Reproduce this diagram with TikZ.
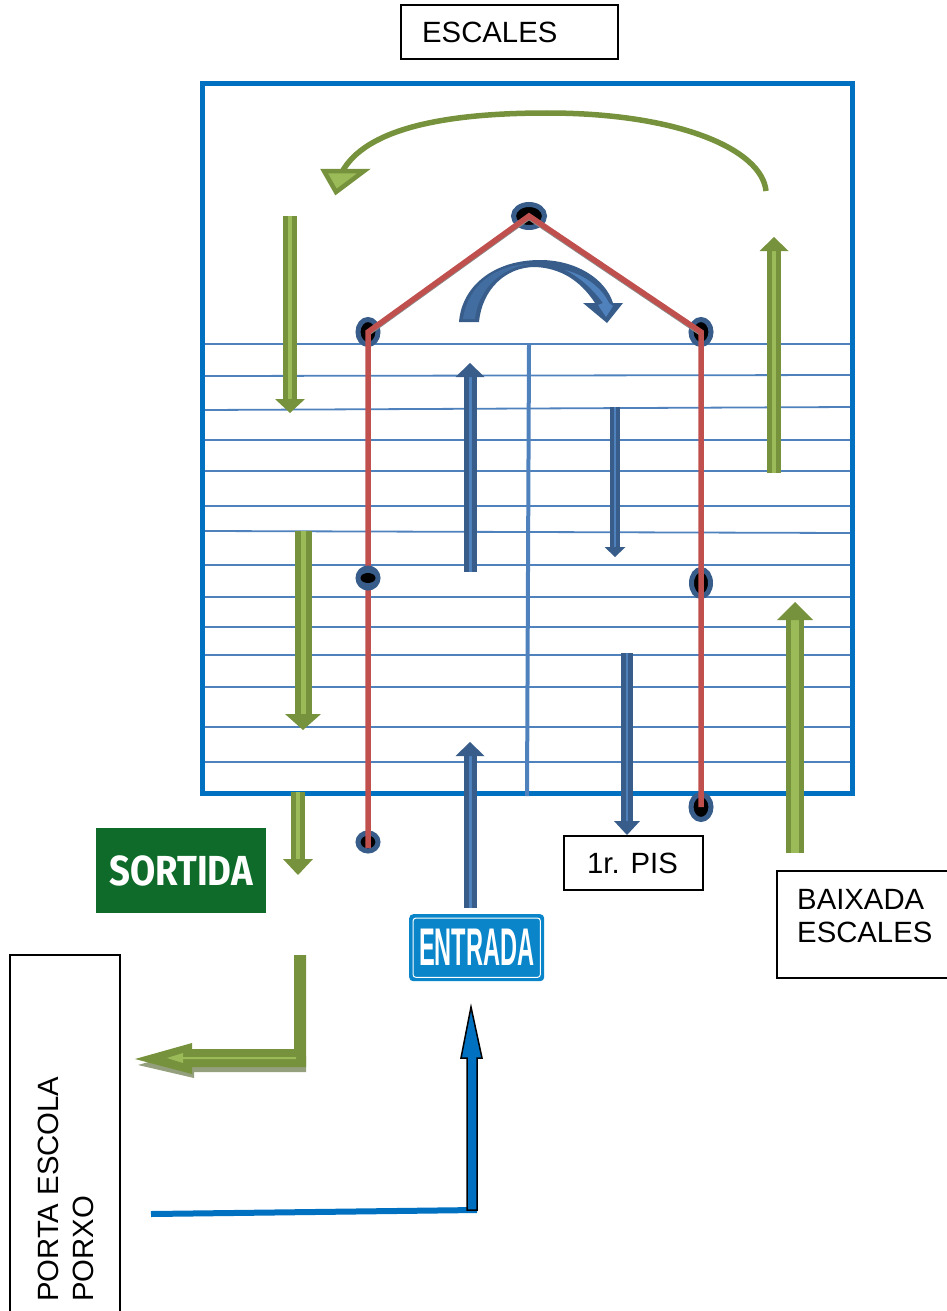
\documentclass[tikz,border=0pt]{standalone}
\usepackage{fontspec}
\setmainfont{Liberation Sans}
\newfontfamily\signfont{Fira Sans}
\usetikzlibrary{arrows.meta,shapes.geometric,positioning}
\definecolor{framblue}{HTML}{0070C0}
\definecolor{stepblue}{HTML}{4F81BD}
\definecolor{darkblue}{HTML}{385D8A}
\definecolor{darkgreen}{HTML}{76923C}
\definecolor{lightgreen}{HTML}{9BBB59}
\definecolor{redline}{HTML}{C0504D}
\definecolor{signgreen}{HTML}{0F6B2A}
\definecolor{signblue}{HTML}{0A85C9}
\tikzset{
label box/.style={draw=black,line width=1.7pt,minimum width=#1,anchor=north west,inner sep=0pt,outer sep=0pt},
label text/.style={inner sep=0pt,anchor=west,font=\fontsize{29.3}{29.3}\selectfont},
stair/.style={stepblue,line width=1.8pt},
green block/.style n args={4}{draw=darkgreen,double=lightgreen,double distance=#2,line width=#1,
  -{Triangle[length=#4,width=#3,line width=0pt,fill=darkgreen]}},
blue block/.style n args={4}{draw=darkblue,double=stepblue,double distance=#2,line width=#1,
  -{Triangle[length=#4,width=#3,line width=0pt,fill=darkblue]}},
hole/.style={ellipse,draw=darkblue,line width=5pt,fill=black,inner sep=0pt},
route/.style={redline,line width=5.5pt},
}
\begin{document}
\begin{tikzpicture}[x=1pt,y=-1pt]
\useasboundingbox (0,0) rectangle (947,1311);

% stairs
\foreach \ya/\yb in {344/344,376/375,410/407,440/440,471/471,506/506,531/533,565/565,597/597,627/627,655/655,687/687,727/727,762/762}
  \draw[stair] (205,\ya) -- (850,\yb);
\draw[framblue,line width=5pt] (202.5,84) rectangle (852.5,793.5);
\coordinate (midtop) at (529,345);
\coordinate (midbot) at (527,796);
\draw[stepblue,line width=4pt] (midtop) -- (midbot);

% holes
\node (htop) at (529,216) [hole,minimum width=31pt,minimum height=23pt] {};
\node (hleft) at (368,332) [hole,minimum width=20pt,minimum height=25pt] {};
\node (hright) at (701,332) [hole,minimum width=20pt,minimum height=25pt] {};
\node (hmidr) at (701,583) [hole,minimum width=19pt,minimum height=27pt] {};
\node (hbotr) at (701,807) [hole,minimum width=20pt,minimum height=25pt] {};
\node (hbotl) at (368,842) [hole,minimum width=20pt,minimum height=18pt] {};
\coordinate (rbotl) at (368,848);

% route
\draw[black!45,line width=1.5pt] ([yshift=-3.5pt]hleft.center) -- ([yshift=-3.5pt]htop.center) -- ([yshift=-3.5pt]hright.center);
\draw[route] (rbotl) -- (hleft.center) -- (htop.center) -- (hright.center) -- (hbotr.center);
\node (hmidl) at (368,578) [hole,fill=darkblue,minimum width=20pt,minimum height=20pt] {};
\node (hmidlin) at (hmidl) [ellipse,fill=black,minimum width=15pt,minimum height=10pt,inner sep=0pt] {};

% green arrows
\coordinate (ga) at (290,216);
\coordinate (gb) at (290,413);
\draw[green block={5pt}{4pt}{30pt}{14pt}] (ga) -- (gb);
\coordinate (gc) at (303,531);
\coordinate (gd) at (303,730);
\draw[green block={6pt}{5pt}{36pt}{16pt}] (gc) -- (gd);
\coordinate (ge) at (298,792);
\coordinate (gf) at (298,875);
\draw[green block={5pt}{4pt}{30pt}{16pt}] (ge) -- (gf);
\coordinate (gg) at (774,473);
\coordinate (gh) at (774,237);
\draw[green block={5pt}{4pt}{29pt}{14pt}] (gg) -- (gh);
\coordinate (gi) at (795,853);
\coordinate (gj) at (795,602);
\draw[green block={5pt}{8pt}{36pt}{18pt}] (gi) -- (gj);

% blue arrows
\coordinate (ba) at (470,572);
\coordinate (bb) at (470,363);
\draw[blue block={5pt}{3pt}{29pt}{14pt}] (ba) -- (bb);
\coordinate (bc) at (615,407);
\coordinate (bd) at (615,557);
\draw[blue block={4pt}{2pt}{21pt}{10pt}] (bc) -- (bd);
\coordinate (be) at (470,908);
\coordinate (bf) at (470,742);
\draw[blue block={5pt}{3pt}{29pt}{14pt}] (be) -- (bf);
\coordinate (bg) at (627,653);
\coordinate (bh) at (627,835);
\draw[blue block={5pt}{2pt}{26pt}{14pt}] (bg) -- (bh);

% curved arrows
\draw[darkgreen,line width=5.5pt] (766,191) .. controls (762,150) and (680,113) .. (547,113)
  .. controls (440,113) and (365,130) .. (342,172);
\draw[darkgreen,fill=lightgreen,line width=4.5pt,line join=miter] (324,171) -- (364,171) -- (336,192) -- cycle;
\fill[darkblue] (459,322) .. controls (462,285) and (495,260) .. (540,260)
  .. controls (575,260) and (605,278) .. (613,303) -- (623,303) -- (607,323) -- (583,303) -- (595,303)
  .. controls (580,280) and (560,268) .. (535,267) .. controls (505,267) and (482,290) .. (479,322) -- cycle;
\fill[stepblue] (565,270) .. controls (585,275) and (602,288) .. (609,303) -- (613,306) -- (606,317) -- (598,305)
  -- (603,303) .. controls (592,288) and (578,276) .. cycle;
\fill[stepblue!45!darkblue] (463,319) .. controls (468,285) and (495,265) .. (530,264)
  .. controls (500,268) and (478,290) .. (475,319) -- cycle;

% exit
\fill[black!35!darkgreen!60,xshift=2pt,yshift=-5pt] (136,1060) -- (192,1044) -- (192,1051) -- (304,1051) -- (304,1067) -- (192,1067) -- (192,1073) -- cycle;
\fill[darkgreen] (294,955) -- (306,955) -- (306,1067) -- (192,1067) -- (192,1074) -- (135,1059) -- (192,1043) -- (192,1049) -- (294,1049) -- cycle;
\fill[lightgreen] (296,1057) -- (183,1057) -- (183,1053) -- (167,1058) -- (183,1063) -- (183,1059) -- (296,1059) -- cycle;

% sign boxes
\node (sortida) at (96,828) [anchor=north west,fill=signgreen,text=white,minimum width=170pt,minimum height=85pt,inner sep=0pt] {\signfont\fontsize{42}{42}\selectfont\bfseries\scalebox{0.87}[1]{SORTIDA}};
\node (entrada) at (409,914) [anchor=north west,rounded corners=4pt,fill=signblue,text=white,minimum width=135pt,minimum height=67pt,inner sep=0pt] {\fontsize{53}{53}\selectfont\bfseries\scalebox{0.445}[1]{ENTRADA}};
\draw[white,line width=1pt,rounded corners=3pt] ([xshift=4pt,yshift=-4pt]entrada.north west) rectangle ([xshift=-4pt,yshift=4pt]entrada.south east);

% entry arrow
\coordinate (ea) at (151,1214);
\coordinate (eb) at (477,1210);
\draw[framblue,line width=6pt] (ea) -- (eb);
\draw[black,fill=framblue,line width=1.5pt] (467,1210) -- (467,1058) -- (461,1058) -- (471,1007) -- (482,1058) -- (477,1058) -- (477,1210) -- cycle;

% labels
\node (escales) at (401,5) [label box={217pt},minimum height=54pt] {};
\node (escalestext) at (422,32) [label text] {ESCALES};
\node (pis) at (564,836) [label box={139pt},minimum height=54pt] {};
\node (pistext) at (587,863) [label text] {1r. PIS};
\node (baixada) at (777,871) [label box={190pt},minimum height=107pt] {};
\node (baixadatext) at (797,899) [label text] {BAIXADA};
\node (baixadatextb) at (797,932) [label text] {ESCALES};
\node (porta) at (10,955) [label box={110pt},minimum height=380pt] {};
\node (portatext) at (48.5,1302) [label text,rotate=90] {PORTA ESCOLA};
\node (porxotext) at (83,1302) [label text,rotate=90] {PORXO};
\end{tikzpicture}
\end{document}
